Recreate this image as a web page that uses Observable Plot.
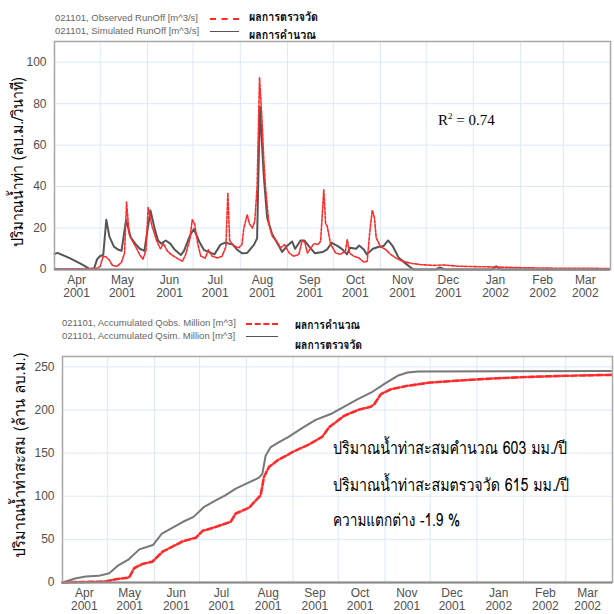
<!DOCTYPE html>
<html>
<head>
<meta charset="utf-8">
<script src="https://cdn.jsdelivr.net/npm/d3@7"></script>
<script src="https://cdn.jsdelivr.net/npm/@observablehq/plot@0.6"></script>
<style>
  html, body { margin: 0; padding: 0; background: #fff; }
  #wrap { position: relative; width: 614px; height: 614px; overflow: hidden; font-family: Arial, "Liberation Sans", sans-serif; }
  .abs { position: absolute; white-space: nowrap; }
  .leg { font-size: 9.5px; line-height: 11px; color: #666; font-family: Arial, "Liberation Sans", sans-serif; }
  .thai { font-family: "Norasi", "Loma", "Garuda", "Noto Serif Thai", "Noto Sans Thai", "Tlwg Typo", serif; color: #000; line-height: 1; }
  svg { overflow: visible; }
</style>
</head>
<body>
<div id="wrap"></div>
<script>
// ---------- DATA ----------
// days after 2001-04-01
const runoffSimDay = [0,2,10,18,23,26,28,30,32,34,36,39,42,44,47,50,53,56,59,63,66,68,70,73,76,79,83,85,89,91.5,95,98,101,105,109,112,117,120,123,126.5,131,133,134.8,137.4,139.6,142.9,146,149.5,152.8,156,158,161.5,164,167,171,176,179,182,186,189,192,194,198,200,203,205,209,213,216,219,222,226,230,234,236,250,253,256,287,290,293,364];
const runoffSimVal = [7.5,8,5.5,2.5,0.3,0.5,5,6.5,7,24,16,11,9.5,9,24,15.5,12.5,10,9,28.5,19,14,12.5,14,12.5,9.5,7,9,16.5,19.5,13.5,9.5,8.5,7.3,12,13,12,9.5,7.8,8,12,15,78.5,45,25,17,13,8.5,11.5,13.5,10,14,14,11.3,7.8,8.4,9.7,12.9,11.3,9.7,7.3,10.5,10,11.6,9.7,7.3,10,11,11.3,14,11.3,5.6,3.2,0.8,0,0,1,0,0,1.5,0,0];

const runoffObsDay = [0,10,20,28,30,32,34,36,38,41,44,46,47.3,49,51,54,56,58,60,61.5,64,67,69.5,71.5,74,77,81.5,84,86,89,90.4,92,94,96,99,101,103.5,107,110,112.5,113.8,115,117.7,121,123,124.3,126.5,128,130,131.5,133,134.6,136,137.4,138.5,140.7,143,146,148.4,151,154,157,160.4,162.6,164.4,166,168,170.3,173,174.7,176.8,178,179,181.2,184.5,187.8,191,192.2,193.7,196.5,199.8,203,205.3,206.8,208.6,210,211.2,214,217.3,220.6,224,228,234,241,249,255,265,275,290,310,330,364];
const runoffObsVal = [0.4,0.3,0.4,0.6,1.5,6.5,6,4.5,2,1.5,3.5,8,32.5,17,14,10,7,5,9,30,21,14,10,12.5,9,7,5,4,7,15,24,22,12.5,6.5,5.5,9.5,6.4,5.6,6.4,11,37,14,11.3,10.5,12,20,26.5,22,20,23.5,40,92.5,75,53,40,22,16,13.5,10.5,12,8,6.4,7.2,14,13,8,10,12.5,12,13.7,38.5,22,21,12.5,8,7.3,9,14.5,8,6.4,5.6,3.6,4,17,28.6,25,15.3,11,9.7,7.3,5.6,4.1,3.0,2.3,2.0,2.2,1.6,1.4,1.2,0.8,0.6,0.5];

const accSimDay = [0,9,15.5,24,31,36.5,44,51,60,66,74,80,87,94,102,108,115,122,130.4,132.6,134.8,138.2,143.7,150.3,159.2,168,178,187,196,205,213.4,222.3,229,236,300,364];
const accSimVal = [0,5,6.9,7.7,10.8,19.2,26.9,38.4,43.4,56.8,64.6,70.4,76.1,87.7,95.4,101.1,108.8,114.6,121.5,126,147,157,162.7,169.2,179.2,188.5,195.3,203.8,212.6,220.3,229.9,239.6,243.4,244.6,244.8,245.3];

const accObsDay = [0,28.7,35.4,44.2,47.5,53,59.7,66.4,75,80,88.5,93,102,111.6,115,124,128,131.5,133.7,137,142.6,152.5,163.6,172.5,176.9,181.3,187,196,204.6,207,211.3,218,229,244,266.5,288.6,310.8,333,364];
const accObsVal = [0,1.2,3.8,5.8,16.5,21.5,24.2,35.7,43.4,48,51.9,59.9,64.6,70.4,80,86.9,94.6,101.1,122.3,133.8,141.5,151.1,160,169.2,180,185.7,193.4,199.9,203.8,206.9,218.4,224.1,228,231.8,234.5,236.8,238.4,239.6,240.7];

const topYTicks = [0,20,40,60,80,100];
const botYTicks = [0,50,100,150,200,250];

const legendTop = ["021101, Observed RunOff [m^3/s]", "021101, Simulated RunOff [m^3/s]"];
const legendTopThai = ["ผลการตรวจวัด", "ผลการคำนวณ"];
const legendBot = ["021101, Accumulated Qobs. Million [m^3]", "021101, Accumulated Qsim. Million [m^3]"];
const legendBotThai = ["ผลการคำนวณ", "ผลการตรวจวัด"];
const yLabelTop = "ปริมาณน้ำท่า (ลบ.ม./วินาที)";
const yLabelBot = "ปริมาณน้ำท่าสะสม  (ล้าน ลบ.ม.)";
const r2Text = "0.74";
const notes = ["ปริมาณน้ำท่าสะสมคำนวณ  603 มม./ปี", "ปริมาณน้ำท่าสะสมตรวจวัด  615 มม./ปี", "ความแตกต่าง  -1.9 %"];

// ---------- helpers ----------
const t0 = Date.UTC(2001, 3, 1);
const toDate = d => new Date(t0 + d * 864e5);
const mk = (days, vals) => days.map((d, i) => ({date: toDate(d), v: vals[i]}));
const xDomain = [new Date(Date.UTC(2001,3,1)), new Date(Date.UTC(2002,3,1))];
const monthStarts = d3.utcMonth.range(xDomain[0], xDomain[1]).slice(1);
const midMonths = d3.utcMonth.range(xDomain[0], xDomain[1]).map(m => new Date(+m + 14.5 * 864e5));
const fmt = d => d3.utcFormat("%b")(d) + "\n" + d3.utcFormat("%Y")(d);

const RED = "#ff2b2b";
const GRID = "#dce8f7";
const FRAME = "#a8a8a8";

function chart({height, marginLeft, marginRight, marginTop, marginBottom, yDomain, yTicks, series}) {
  return Plot.plot({
    width: 614, height, marginLeft, marginRight, marginTop, marginBottom,
    style: {fontFamily: "Arial, 'Liberation Sans', sans-serif", fontSize: "12px", color: "#555", background: "transparent"},
    x: {type: "utc", domain: xDomain},
    y: {domain: yDomain},
    marks: [
      Plot.gridX(monthStarts, {stroke: GRID, strokeOpacity: 1, strokeWidth: 1}),
      Plot.gridY(yTicks, {stroke: GRID, strokeOpacity: 1, strokeWidth: 1}),
      ...series,
      Plot.frame({stroke: FRAME, strokeWidth: 1.5}),
      Plot.ruleY([0], {stroke: "#8a8a8a", strokeWidth: 2}),
      Plot.axisY(yTicks, {tickSize: 0, tickPadding: 8, label: null, fontSize: 12, fill: "#505050"}),
      Plot.axisX(midMonths, {tickSize: 0, tickPadding: 5, tickFormat: fmt, label: null, fontSize: 12, fill: "#505050", lineHeight: 1.1})
    ]
  });
}

const wrap = document.getElementById("wrap");
function place(el, left, topPx) { el.style.position = "absolute"; el.style.left = left + "px"; el.style.top = topPx + "px"; wrap.appendChild(el); return el; }
function div(html, cls, left, topPx, style = "") {
  const e = document.createElement("div"); e.className = "abs " + cls; e.innerHTML = html; e.setAttribute("style", style);
  return place(e, left, topPx);
}
// horizontal text condensed to a target width; (left, centerY)
function fitText(text, left, cy, size, targetW, extra = "") {
  const e = div(text, "thai", left, 0, `font-size:${size}px;${extra}`);
  e.style.left = left + "px";
  const w = e.getBoundingClientRect().width, h = e.getBoundingClientRect().height;
  e.style.top = (cy - h / 2) + "px";
  e.style.transformOrigin = "left center";
  e.style.transform = `scaleX(${targetW / w})`;
  return e;
}
// vertical (rotated) text centred at (cx, cy) with a target length
function vText(text, cx, cy, size, targetL) {
  const e = div(text, "thai", 0, 0, `font-size:${size}px`);
  const w = e.getBoundingClientRect().width, h = e.getBoundingClientRect().height;
  e.style.left = (cx - w / 2) + "px";
  e.style.top = (cy - h / 2) + "px";
  e.style.transformOrigin = "center center";
  e.style.transform = `rotate(-90deg) scaleX(${targetL / w})`;
  return e;
}

// ---------- TOP CHART ----------
const topChart = chart({
  height: 264, marginLeft: 54, marginRight: 4, marginTop: 3, marginBottom: 33,
  yDomain: [0, 110], yTicks: topYTicks,
  series: [
    Plot.line(mk(runoffSimDay, runoffSimVal), {x: "date", y: "v", stroke: "#555", strokeWidth: 2}),
    Plot.line(mk(runoffObsDay, runoffObsVal), {x: "date", y: "v", stroke: RED, strokeWidth: 1.6, strokeDasharray: "3,1.5"})
  ]
});
place(topChart, 0, 38);

// ---------- BOTTOM CHART ----------
const botChart = chart({
  height: 261, marginLeft: 62, marginRight: 2, marginTop: 3, marginBottom: 32,
  yDomain: [0, 262], yTicks: botYTicks,
  series: [
    Plot.line(mk(accSimDay, accSimVal), {x: "date", y: "v", stroke: "#777", strokeWidth: 2}),
    Plot.line(mk(accObsDay, accObsVal), {x: "date", y: "v", stroke: RED, strokeWidth: 2.6, strokeDasharray: "6,2.5"})
  ]
});
place(botChart, 0, 353);

// ---------- LEGENDS ----------
div(legendTop[0], "leg", 55, 12);
div(legendTop[1], "leg", 55, 25);
div("", "", 210, 18, `width:29px;border-top:2px dashed ${RED};height:0`);
div("", "", 210, 31, "width:29px;border-top:1.5px solid #555;height:0");
fitText(legendTopThai[0], 249, 17, 12, 69, "font-weight:bold");
fitText(legendTopThai[1], 249, 35, 12, 67, "font-weight:bold");

div(legendBot[0], "leg", 62, 317);
div(legendBot[1], "leg", 62, 330);
div("", "", 246, 323, `width:32px;border-top:2px dashed ${RED};height:0`);
div("", "", 246, 336, "width:32px;border-top:1.5px solid #555;height:0");
fitText(legendBotThai[0], 295, 325, 12, 65, "font-weight:bold");
fitText(legendBotThai[1], 295, 345, 12, 67, "font-weight:bold");

// ---------- AXIS TITLES ----------
vText(yLabelTop, 18, 162, 16, 170);
vText(yLabelBot, 20, 455, 16, 205);

// ---------- ANNOTATIONS ----------
div("R<sup style='font-size:9px'>2</sup> = " + r2Text, "", 438, 111, "font-family:'Liberation Serif','Times New Roman',serif;font-size:15px;color:#000");
fitText(notes[0], 333, 447, 17, 234);
fitText(notes[1], 333, 484, 17, 236);
fitText(notes[2], 333, 519, 17, 127);
</script>
</body>
</html>
